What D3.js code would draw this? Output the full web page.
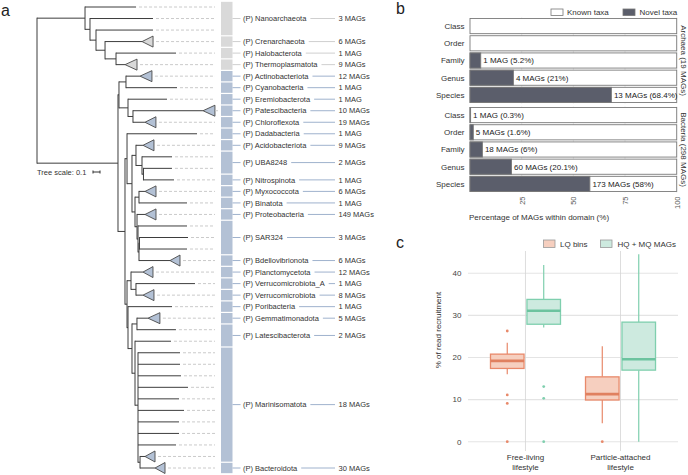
<!DOCTYPE html>
<html><head><meta charset="utf-8">
<script src="https://cdn.jsdelivr.net/npm/d3@7"></script>
<style>body{margin:0;background:#fff;} svg{display:block;font-family:"Liberation Sans",Arial,Helvetica,sans-serif;}</style>
</head><body><svg id="fig" width="688" height="475"></svg>
<script>
// ---------------- DATA ----------------
// Panel a: phylogeny (branch lengths in substitutions/site)
const treeNewick = "((Nano1:0.729,(Nano2:0.9,(Nano3:0.814,(Cren:0.529,(Halo:0.857,Thermo:0.129)E:0.157)D:0.129)C:0.086)B:0.071)A:0.686,(((Actino:0.2,Cyano:0.729)AC:0.1,(Eremio:0.557,(Patesci:1.0,Chloro:0.171)PC:0.071)EP:0.129)T1:0.014,((Dada:1.0,((Acido:0.1,(UBAa:0.429,(UBAb:0.407,Nitro:0.436)UN:0.021)UBA:0.086)AU:0.057,((Myxo:0.086,Bina:0.686)MB:0.057,(Proteo:0.114,(SAR1:0.7,((SAR2:0.693,SAR3:0.679)S1:0.007,Bdello:0.443)S2:0.014)S3:0.014)S4:0.029)MS:0.043)AUMS:0.071)DS:0.029,((Plancto:0.171,(VerrA:0.843,Verr:0.1)V:0.071)PV:0.057,(Pori:0.629,((Gemmat:0.157,Lat1:0.557)G:0.071,(Lat2:0.514,(M1:0.6,M2:0.6,M3:0.614,M4:0.714,M5:0.586,M6:0.657,M7:0.586,M8:0.586,M9:0.543,(MarinT:0.071,Bacte:0.214)MB2:0.029)M:0.043)LM:0.043)GL:0.057)PG:0.014)LOW:0.029)L:0.1)BR:1.157);";
const collapsedTips = ["Cren","Thermo","Actino","Patesci","Chloro","Acido","Myxo","Proteo","Bdello","Plancto","Verr","Gemmat","MarinT","Bacte"];
const collapsedDepth = [0.157,0.171,0.171,0.171,0.157,0.157,0.157,0.157,0.143,0.143,0.157,0.171,0.143,0.143];
const phyla = ["Nanoarchaeota","Crenarchaeota","Halobacterota","Thermoplasmatota","Actinobacteriota","Cyanobacteria","Eremiobacterota","Patescibacteria","Chloroflexota","Dadabacteria","Acidobacteriota","UBA8248","Nitrospinota","Myxococcota","Binatota","Proteobacteria","SAR324","Bdellovibrionota","Planctomycetota","Verrucomicrobiota_A","Verrucomicrobiota","Poribacteria","Gemmatimonadota","Latescibacterota","Marinisomatota","Bacteroidota"];
const phylumLeafCount = [3,1,1,1,1,1,1,1,1,1,1,2,1,1,1,1,3,1,1,1,1,1,1,2,10,1];
const phylumMAGs = [3,6,1,9,12,1,1,10,19,1,9,2,1,6,1,149,3,6,12,1,8,1,5,2,18,30];
const phylumDomain = ["Archaea","Archaea","Archaea","Archaea","Bacteria","Bacteria","Bacteria","Bacteria","Bacteria","Bacteria","Bacteria","Bacteria","Bacteria","Bacteria","Bacteria","Bacteria","Bacteria","Bacteria","Bacteria","Bacteria","Bacteria","Bacteria","Bacteria","Bacteria","Bacteria","Bacteria"];
const treeScaleValue = 0.1;

// Panel b
const taxRanks = ["Class","Order","Family","Genus","Species"];
const archaeaNovel = [0,0,1,4,13];
const archaeaPct = [0,0,5.2,21,68.4];
const bacteriaNovel = [1,5,18,60,173];
const bacteriaPct = [0.3,1.6,6,20.1,58];
const domainStrips = ["Archaea (19 MAGs)","Bacteria (298 MAGs)"];
const pctTicks = [25,50,75,100];
const taxaLegend = ["Known taxa","Novel taxa"];

// Panel c
const lifestyles = ["Free-living lifestyle","Particle-attached lifestyle"];
const binTypes = ["LQ bins","HQ + MQ MAGs"];
const lqLow = [16.0, 4.4], lqQ1 = [17.4, 9.9], lqMed = [19.2, 11.3], lqQ3 = [20.8, 15.4], lqHigh = [23.5, 22.7];
const lqOutliers = [[26.3, 11.1, 9.1, 0], [0]];
const hqLow = [27.1, 0], hqQ1 = [27.9, 17.0], hqMed = [31.1, 19.6], hqQ3 = [33.8, 28.4], hqHigh = [42.0, 44.5];
const hqOutliers = [[13.1, 10.3, 0], []];
const recruitTicks = [0,10,20,30,40];

// ---------------- HELPERS ----------------
function parseNewick(s){
  let i=0;
  function node(){
    const n={children:[]};
    if(s[i]==='('){
      i++; n.children.push(node());
      while(s[i]===','){i++; n.children.push(node());}
      i++;
    }
    let name=''; while(i<s.length && !',():;'.includes(s[i])) name+=s[i++];
    n.name=name;
    if(s[i]===':'){i++; let l=''; while(i<s.length && !',();'.includes(s[i])) l+=s[i++]; n.length=+l;} else n.length=0;
    if(!n.children.length) delete n.children;
    return n;
  }
  return node();
}

const svg = d3.select("#fig");
const FONT = "Liberation Sans, Arial, sans-serif";

// ---------------- PANEL A ----------------
const gA = svg.append("g");
gA.append("text").attr("x",1).attr("y",16).attr("font-size",16).attr("fill","#222").text("a");

const root = d3.hierarchy(parseNewick(treeNewick));
root.eachBefore(d=>{ d.dist = d.parent ? d.parent.dist + d.data.length : 0; });
const leaves = root.leaves();
const yRow = d3.scalePoint().domain(leaves.map(d=>d.data.name)).range([7,468]);
const xTree = d3.scaleLinear().domain([0,1]).range([37,107]);
leaves.forEach(d=>{ d.y = yRow(d.data.name); });
root.eachAfter(d=>{ if(d.children) d.y = d3.mean(d.children, c=>c.y); });
const leafIndex = new Map(leaves.map((d,i)=>[d.data.name,i]));
const archaeaLeafCount = d3.sum(phylumLeafCount.filter((c,i)=>phylumDomain[i]==="Archaea"));
const domainFill = {Archaea:"#d9d9d9", Bacteria:"#b3c1d5"};
const domainLine = {Archaea:"#cfcfcf", Bacteria:"#9fb2cd"};
const leafDomain = d => leafIndex.get(d.data.name) < archaeaLeafCount ? "Archaea" : "Bacteria";

const treeColor = "#3d3d3d";
// horizontal branches
root.descendants().filter(d=>d.parent).forEach(d=>{
  gA.append("line").attr("x1",xTree(d.parent.dist)).attr("x2",xTree(d.dist))
    .attr("y1",d.y).attr("y2",d.y).attr("stroke",treeColor).attr("stroke-width",1);
});
// vertical connectors
root.descendants().filter(d=>d.children).forEach(d=>{
  const ys = d.children.map(c=>c.y);
  gA.append("line").attr("x1",xTree(d.dist)).attr("x2",xTree(d.dist))
    .attr("y1",d3.min(ys)-0.5).attr("y2",d3.max(ys)+0.5).attr("stroke",treeColor).attr("stroke-width",1);
});
// collapsed triangles & leaders
const leaderEnd = 215;
leaves.forEach(d=>{
  const ci = collapsedTips.indexOf(d.data.name);
  let tipX = xTree(d.dist);
  if(ci>=0){
    const x2 = xTree(d.dist + collapsedDepth[ci]);
    gA.append("path").attr("d",`M${tipX},${d.y}L${x2},${d.y-5.5}L${x2},${d.y+5.5}Z`)
      .attr("fill",domainFill[leafDomain(d)]).attr("stroke","#4a4a4a").attr("stroke-width",0.9);
    tipX = x2;
  }
  gA.append("line").attr("x1",tipX+3).attr("x2",leaderEnd).attr("y1",d.y).attr("y2",d.y)
    .attr("stroke","#c4c4c4").attr("stroke-width",0.9).attr("stroke-dasharray","3,2");
});
// tree scale
gA.append("text").attr("x",37).attr("y",175).attr("font-size",7.5).attr("fill","#333").text("Tree scale: " + treeScaleValue);
const sbx = 93;
gA.append("line").attr("x1",sbx).attr("x2",sbx + xTree(treeScaleValue)-xTree(0)).attr("y1",172).attr("y2",172).attr("stroke","#333");
gA.append("line").attr("x1",sbx).attr("x2",sbx).attr("y1",170.5).attr("y2",173.5).attr("stroke","#333");
gA.append("line").attr("x1",sbx + xTree(treeScaleValue)-xTree(0)).attr("x2",sbx + xTree(treeScaleValue)-xTree(0)).attr("y1",170.5).attr("y2",173.5).attr("stroke","#333");

// phylum strips and labels
const rowStep = yRow.step();
let start = 0;
phyla.forEach((p,i)=>{
  const first = leaves[start], last = leaves[start + phylumLeafCount[i] - 1];
  start += phylumLeafCount[i];
  const dom = phylumDomain[i];
  const y0 = first.y - rowStep/2 + 0.6, y1 = last.y + rowStep/2 - 0.6;
  gA.append("rect").attr("x",221).attr("y",y0).attr("width",11.5).attr("height",y1-y0).attr("fill",domainFill[dom]);
  const ym = (first.y + last.y)/2;
  gA.append("line").attr("x1",232.5).attr("x2",240.5).attr("y1",ym).attr("y2",ym).attr("stroke",domainLine[dom]).attr("stroke-width",1);
  const t = gA.append("text").attr("x",243).attr("y",ym).attr("dy","0.35em").attr("font-size",7.5).attr("fill","#333").text("(P) " + p);
  const w = t.node().getComputedTextLength();
  gA.append("line").attr("x1",243+w+4).attr("x2",335).attr("y1",ym).attr("y2",ym).attr("stroke",domainLine[dom]).attr("stroke-width",1);
  gA.append("text").attr("x",338.5).attr("y",ym).attr("dy","0.35em").attr("font-size",7.5).attr("fill","#333")
    .text(phylumMAGs[i] + (phylumMAGs[i]===1 ? " MAG" : " MAGs"));
});

// ---------------- PANEL B ----------------
const gB = svg.append("g");
gB.append("text").attr("x",396).attr("y",14).attr("font-size",16).attr("fill","#222").text("b");
const xB = d3.scaleLinear().domain([0,100]).range([470,676.7]);
const facetRanges = [[17.5,103.5],[106.5,192.5]];
const facetData = [[archaeaNovel,archaeaPct],[bacteriaNovel,bacteriaPct]];
// gridlines
facetRanges.forEach(r=>{
  pctTicks.forEach(t=>{
    gB.append("line").attr("x1",xB(t)).attr("x2",xB(t)).attr("y1",r[0]).attr("y2",r[1]).attr("stroke","#e3e3e3").attr("stroke-width",0.8);
  });
});
facetRanges.forEach((r,fi)=>{
  const yB = d3.scaleBand().domain(taxRanks).range(r).paddingInner(0.12).paddingOuter(0.06);
  const [novel,pct] = facetData[fi];
  taxRanks.forEach((rk,i)=>{
    const y = yB(rk), h = yB.bandwidth();
    gB.append("rect").attr("x",xB(0)).attr("y",y).attr("width",xB(100)-xB(0)).attr("height",h)
      .attr("fill","#fff").attr("stroke","#7a7a7a").attr("stroke-width",0.9);
    if(pct[i]>0){
      gB.append("rect").attr("x",xB(0)).attr("y",y).attr("width",xB(pct[i])-xB(0)).attr("height",h)
        .attr("fill","#5b5e6b").attr("stroke","#7a7a7a").attr("stroke-width",0.9);
      gB.append("text").attr("x",xB(pct[i])+2.5).attr("y",y+h/2).attr("dy","0.35em").attr("font-size",8).attr("fill","#222")
        .text(`${novel[i]} MAG${novel[i]>1?"s":""} (${pct[i]}%)`);
    }
    gB.append("text").attr("x",464.5).attr("y",y+h/2).attr("dy","0.35em").attr("text-anchor","end").attr("font-size",8).attr("fill","#333").text(rk);
  });
  gB.append("text").attr("transform",`translate(683.5,${(r[0]+r[1])/2}) rotate(90)`).attr("text-anchor","middle").attr("dy","0.35em")
    .attr("font-size",8).attr("fill","#333").text(domainStrips[fi]);
});
const axB = gB.append("g").attr("transform","translate(0,192.5)")
  .call(d3.axisBottom(xB).tickValues(pctTicks).tickSize(0).tickPadding(0));
axB.select(".domain").remove();
axB.selectAll("text").attr("transform","rotate(-90)").attr("x",-4).attr("y",0).attr("dy","0.35em")
  .attr("text-anchor","end").attr("font-size",7.5).attr("fill","#555").attr("font-family",FONT);
gB.append("text").attr("x",469).attr("y",219.5).attr("font-size",8).attr("fill","#333").text("Percentage of MAGs within domain (%)");
// legend
gB.append("rect").attr("x",551).attr("y",9).attr("width",12).attr("height",6.5).attr("fill","#fff").attr("stroke","#777").attr("stroke-width",0.8);
gB.append("text").attr("x",567).attr("y",12.3).attr("dy","0.35em").attr("font-size",8).attr("fill","#333").text(taxaLegend[0]);
gB.append("rect").attr("x",623).attr("y",9).attr("width",12).attr("height",6.5).attr("fill","#5b5e6b").attr("stroke","#777").attr("stroke-width",0.8);
gB.append("text").attr("x",639.5).attr("y",12.3).attr("dy","0.35em").attr("font-size",8).attr("fill","#333").text(taxaLegend[1]);

// ---------------- PANEL C ----------------
const gC = svg.append("g");
gC.append("text").attr("x",396).attr("y",248).attr("font-size",16).attr("fill","#222").text("c");
const yC = d3.scaleLinear().domain([0,40]).range([441.7,273.3]);
const xC = d3.scalePoint().domain(lifestyles).range([468,678]).padding(0.605);
const dodge = d3.scaleBand().domain(binTypes).range([-35,35]).paddingInner(0.08);
const plotTop = 251, plotBottom = 451;
recruitTicks.forEach(t=>{
  gC.append("line").attr("x1",468).attr("x2",678).attr("y1",yC(t)).attr("y2",yC(t)).attr("stroke","#e4e4e4").attr("stroke-width",1.1);
  gC.append("text").attr("x",461.5).attr("y",yC(t)).attr("dy","0.35em").attr("text-anchor","end").attr("font-size",8).attr("fill","#444").text(t);
});
lifestyles.forEach(l=>{
  gC.append("line").attr("x1",xC(l)).attr("x2",xC(l)).attr("y1",plotTop).attr("y2",plotBottom).attr("stroke","#d4d4d4").attr("stroke-width",0.8);
  const words = l.split(" ");
  gC.append("text").attr("x",xC(l)).attr("y",459.5).attr("text-anchor","middle").attr("font-size",8).attr("fill","#333").text(words[0]);
  gC.append("text").attr("x",xC(l)).attr("y",469.5).attr("text-anchor","middle").attr("font-size",8).attr("fill","#333").text(words[1]);
});
gC.append("text").attr("transform","translate(441,330) rotate(-90)").attr("text-anchor","middle").attr("font-size",8).attr("fill","#333").text("% of read recruitment");

const binStyle = {
  "LQ bins": {stroke:"#e8896a", fill:"#f6cfbf", med:"#e0805f"},
  "HQ + MQ MAGs": {stroke:"#7fcfae", fill:"#cdeadf", med:"#6cc39f"}
};
const binStats = {
  "LQ bins": {low:lqLow,q1:lqQ1,med:lqMed,q3:lqQ3,high:lqHigh,out:lqOutliers},
  "HQ + MQ MAGs": {low:hqLow,q1:hqQ1,med:hqMed,q3:hqQ3,high:hqHigh,out:hqOutliers}
};
binTypes.forEach(b=>{
  const s = binStats[b], st = binStyle[b];
  lifestyles.forEach((l,i)=>{
    const cx = xC(l) + dodge(b) + dodge.bandwidth()/2;
    const bw = dodge.bandwidth();
    gC.append("line").attr("x1",cx).attr("x2",cx).attr("y1",yC(s.low[i])).attr("y2",yC(s.q1[i])).attr("stroke",st.stroke).attr("stroke-width",1.2);
    gC.append("line").attr("x1",cx).attr("x2",cx).attr("y1",yC(s.q3[i])).attr("y2",yC(s.high[i])).attr("stroke",st.stroke).attr("stroke-width",1.2);
    gC.append("rect").attr("x",cx-bw/2).attr("y",yC(s.q3[i])).attr("width",bw).attr("height",yC(s.q1[i])-yC(s.q3[i]))
      .attr("fill",st.fill).attr("stroke",st.stroke).attr("stroke-width",1.3);
    gC.append("line").attr("x1",cx-bw/2).attr("x2",cx+bw/2).attr("y1",yC(s.med[i])).attr("y2",yC(s.med[i])).attr("stroke",st.med).attr("stroke-width",2.6);
    s.out[i].forEach(v=>{
      gC.append("circle").attr("cx",cx).attr("cy",yC(v)).attr("r",1.4).attr("fill",st.stroke);
    });
  });
});
// legend
gC.append("rect").attr("x",543.5).attr("y",240).attr("width",11.5).attr("height",7.5).attr("fill",binStyle["LQ bins"].fill).attr("stroke","#999").attr("stroke-width",0.8);
gC.append("text").attr("x",560).attr("y",243.8).attr("dy","0.35em").attr("font-size",8).attr("fill","#333").text(binTypes[0]);
gC.append("rect").attr("x",600.5).attr("y",240).attr("width",11.5).attr("height",7.5).attr("fill",binStyle["HQ + MQ MAGs"].fill).attr("stroke","#999").attr("stroke-width",0.8);
gC.append("text").attr("x",617.5).attr("y",243.8).attr("dy","0.35em").attr("font-size",8).attr("fill","#333").text(binTypes[1]);
</script></body></html>
